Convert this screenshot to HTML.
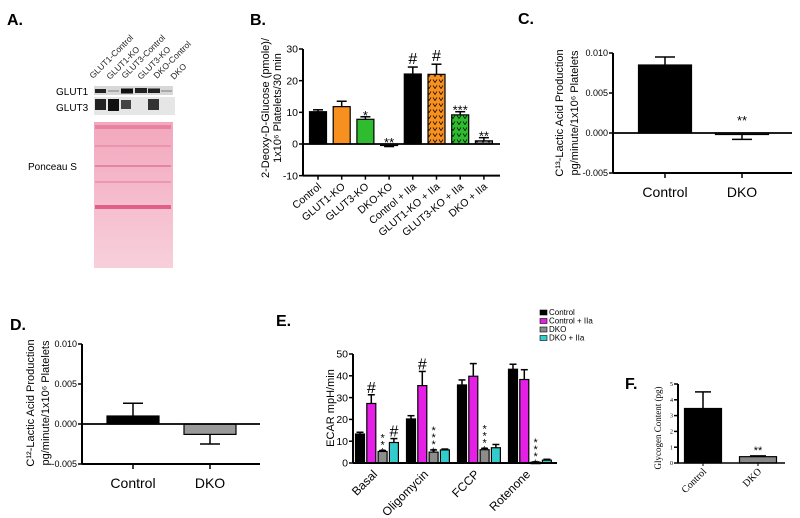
<!DOCTYPE html>
<html><head><meta charset="utf-8"><style>
body{margin:0;background:#fff;}
svg{display:block;font-family:"Liberation Sans",sans-serif;}
.serif{font-family:"Liberation Serif",serif;}
</style></head><body>
<svg id="fig" width="800" height="518" viewBox="0 0 800 518" xmlns="http://www.w3.org/2000/svg">
<defs>
<pattern id="vpat" width="6" height="6" patternUnits="userSpaceOnUse">
<path d="M1 1.5 L3 4.5 L5 1.5" fill="none" stroke="#000" stroke-width="0.7"/>
</pattern>
<linearGradient id="pon" x1="0" y1="0" x2="0" y2="1">
<stop offset="0" stop-color="#f2a7bd"/><stop offset="1" stop-color="#f8cfdb"/>
</linearGradient>
</defs>
<!-- Panel A -->
<g>
<text x="7" y="25" font-size="16" font-weight="bold">A.</text>
<g font-size="8.5" fill="#222">
<text transform="translate(93,79) rotate(-45)">GLUT1-Control</text>
<text transform="translate(110,80) rotate(-45)">GLUT1-KO</text>
<text transform="translate(125,79) rotate(-45)">GLUT3-Control</text>
<text transform="translate(141,80) rotate(-45)">GLUT3-KO</text>
<text transform="translate(157,79) rotate(-45)">DKO-Control</text>
<text transform="translate(174,80) rotate(-45)">DKO</text>
</g>
<text x="56" y="95" font-size="10">GLUT1</text>
<text x="56" y="111" font-size="10">GLUT3</text>
<g>
<rect x="94" y="86" width="79" height="9" fill="#d8d8d8"/>
<rect x="95" y="89" width="11" height="4" fill="#222"/>
<rect x="108" y="90" width="11" height="2" fill="#aaa"/>
<rect x="121" y="88.5" width="12" height="5" fill="#111"/>
<rect x="135" y="88" width="12" height="5" fill="#222"/>
<rect x="148" y="88.5" width="12" height="4.5" fill="#222"/>
<rect x="161" y="90" width="11" height="2" fill="#aaa"/>
</g>
<g>
<rect x="94" y="97" width="81" height="18" fill="#e6e6e6"/>
<rect x="95" y="99" width="11" height="11" fill="#222"/>
<rect x="108" y="99" width="11" height="12" fill="#111"/>
<rect x="121" y="100" width="10" height="9" fill="#444"/>
<rect x="148" y="99" width="11" height="11" fill="#333"/>
</g>
<text x="28" y="170" font-size="10">Ponceau S</text>
<g>
<rect x="94" y="122" width="79" height="146" fill="url(#pon)"/>
<g fill="#e8839f">
<rect x="95" y="125" width="76" height="4"/>
<rect x="95" y="165" width="76" height="2"/>
<rect x="95" y="181" width="76" height="2" opacity="0.6"/>
<rect x="95" y="205" width="76" height="4" fill="#e0608a"/>
<rect x="95" y="145" width="76" height="2" opacity="0.6"/>
</g>
</g>
</g>
<!-- Panel B -->
<g id="pb">
<text x="250" y="25" font-size="16" font-weight="bold">B.</text>
<g font-size="11" text-anchor="middle">
<text transform="translate(269,108) rotate(-90)">2-Deoxy-D-Glucose (pmole)/</text>
<text transform="translate(281,108) rotate(-90)">1x10⁶ Platelets/30 min</text>
</g>
</g>
<!-- Panel C -->
<g id="pc">
<text x="518" y="24" font-size="16" font-weight="bold">C.</text>
<g font-size="11" text-anchor="middle">
<text transform="translate(563,113) rotate(-90)">C¹³-Lactic Acid Production</text>
<text transform="translate(578,113) rotate(-90)">pg/minute/1x10⁶ Platelets</text>
</g>
</g>
<!-- Panel D -->
<g id="pd">
<text x="10" y="330" font-size="16" font-weight="bold">D.</text>
<g font-size="11" text-anchor="middle">
<text transform="translate(34,403) rotate(-90)">C¹²-Lactic Acid Production</text>
<text transform="translate(49,403) rotate(-90)">pg/minute/1x10⁶ Platelets</text>
</g>
</g>
<!-- Panel E -->
<g id="pe">
<text x="276" y="326" font-size="16" font-weight="bold">E.</text>
<text transform="translate(334,408) rotate(-90)" font-size="11" text-anchor="middle">ECAR mpH/min</text>
</g>
<!-- Panel F -->
<g id="pf">
<text x="625" y="389" font-size="16" font-weight="bold">F.</text>
<text class="serif" transform="translate(661,428) rotate(-90)" font-size="9" text-anchor="middle">Glycogen Content (pg)</text>
</g>
</svg>
<script>
// Panel B data
const B_cats=["Control","GLUT1-KO","GLUT3-KO","DKO-KO","Control + IIa","GLUT1-KO + IIa","GLUT3-KO + IIa","DKO + IIa"];
const B_vals=[10.2,11.8,7.8,-0.3,22.1,22.0,9.2,1.0];
const B_errs=[0.6,1.7,0.8,0.5,2.2,3.2,1.0,1.0];
const B_marks=["","","*","**","#","#","***","**"];
const B_ticks=[-10,0,10,20,30];
// Panel C data
const C_cats=["Control","DKO"];
const C_vals=[0.0085,-0.0001];
const C_errs=[0.001,0.0007];
const C_marks=["","**"];
const C_ticks=[-0.005,0,0.005,0.010];
// Panel D data
const D_cats=["Control","DKO"];
const D_vals=[0.001,-0.0013];
const D_errs=[0.0016,0.0012];
const D_ticks=[-0.005,0,0.005,0.010];
// Panel E data
const E_groups=["Basal","Oligomycin","FCCP","Rotenone"];
const E_series=["Control","Control + IIa","DKO","DKO + IIa"];
const E_control=[13.3,20.2,35.8,43.0];
const E_controlIIa=[27.3,35.5,39.8,38.3];
const E_dko=[5.3,5.0,6.1,0.4];
const E_dkoIIa=[9.4,6.0,7.0,1.3];
const E_controlErr=[0.8,1.5,2.3,2.3];
const E_controlIIaErr=[4.0,6.5,5.8,4.5];
const E_dkoErr=[0.4,1.0,0.6,0.1];
const E_dkoIIaErr=[1.8,0.4,1.5,0.4];
const E_controlIIaMarks=["#","#","",""];
const E_dkoMarks=["***","****","****","****"];
const E_dkoIIaMarks=["#","","",""];
const E_ticks=[0,10,20,30,40,50];
// Panel F data
const F_cats=["Control","DKO"];
const F_vals=[3.45,0.4];
const F_errs=[1.05,0.05];
const F_marks=["","**"];
const F_ticks=[0,1,2,3,4,5];

const NS="http://www.w3.org/2000/svg";
function mk(tag,parent,attrs){const e=document.createElementNS(NS,tag);for(const k in attrs)e.setAttribute(k,attrs[k]);parent.appendChild(e);return e;}
function scale(d0,d1,r0,r1){return v=>r0+(v-d0)*(r1-r0)/(d1-d0);}

function yAxis(g,x,y,ticks,fmt,fs,cls){
  const ax=mk('line',g,{x1:x,x2:x,y1:y(ticks[ticks.length-1]),y2:y(ticks[0]),stroke:'#000','stroke-width':2});
  
  
  ticks.forEach(t=>{
    const tk=mk('line',g,{x1:x-4,x2:x,y1:y(t),y2:y(t),stroke:'#000','stroke-width':1.5});
    
    
    const tl=mk('text',g,{x:x-5,y:y(t)+fs*0.35,'font-size':fs,'text-anchor':'end'});
    if(cls)tl.setAttribute('class',cls);
    tl.textContent=fmt(t);
    
    
  });
}
function errBar(g,cx,y,v,e,cap){
  const y0=y(v), y1=v>=0?y(v+e):y(v-e);
  mk('line',g,{x1:cx,x2:cx,y1:y0,y2:y1,stroke:'#000','stroke-width':1.5});
  const c=mk('line',g,{x1:cx-cap,x2:cx+cap,y1:y1,y2:y1,stroke:'#000','stroke-width':1.5});
  
  
  return Math.min(y1,y0);
}
function bar(g,cx,w,y,v,fill,name){
  const r=mk('rect',g,{x:cx-w/2,y:Math.min(y(v),y(0)),width:w,height:Math.max(1.5,Math.abs(y(v)-y(0))),fill:fill,stroke:'#000','stroke-width':1.2});
  
  
  return r;
}

// ---- Panel B
(function(){
  const g=document.getElementById('pb');
  const y=scale(0,30,144,49);
  const x0=303, xs=cx=>318+cx*23.7;
  const fills=['#000','#f7901e','#2fbd2f','#888','#000','#f7901e','#2fbd2f','#888'];
  yAxis(g,x0,y,B_ticks,t=>String(t),10.5);
  B_vals.forEach((v,i)=>{
    const cx=xs(i);
    bar(g,cx,17,y,v,fills[i],'bar-b-'+i);
    if(i>=5){const p=mk('rect',g,{x:cx-8.5,y:Math.min(y(v),y(0)),width:17,height:Math.abs(y(v)-y(0)),fill:'url(#vpat)'});
      
      }
    const top=errBar(g,cx,y,v,B_errs[i],5);
    if(B_marks[i]){const t=mk('text',g,{x:cx,y:(v<0?y(0):top)-3+(B_marks[i]=='#'?0:6),'font-size':B_marks[i]=='#'?16:13,'text-anchor':'middle'});t.textContent=B_marks[i];
      
      }
    mk('line',g,{x1:cx,x2:cx,y1:y(-10),y2:y(-10)+4,stroke:'#000','stroke-width':1.5});
    const tl=mk('text',g,{'font-size':10.5,'text-anchor':'end',transform:`translate(${cx+4},${y(-10)+12}) rotate(-40)`});
    tl.textContent=B_cats[i];
    
    
  });
  mk('line',g,{x1:x0,x2:500,y1:y(0),y2:y(0),stroke:'#000','stroke-width':1.8});
  const xa=mk('line',g,{x1:x0,x2:500,y1:y(-10),y2:y(-10),stroke:'#000','stroke-width':2});
  
  
})();

// ---- Panel C / D
function lactic(id,cats,vals,errs,marks,ticks,ax,y0,y1,xe,c0,c1,bw,fills){
  const g=document.getElementById(id);
  const y=scale(0,0.010,y0,y1);
  yAxis(g,ax,y,ticks,t=>t.toFixed(3),9);
  vals.forEach((v,i)=>{
    const cx=i?c1:c0;
    bar(g,cx,bw,y,v,fills[i],'bar-'+cats[i].toLowerCase());
    errBar(g,cx,y,v,errs[i],10);
    if(marks&&marks[i]){const t=mk('text',g,{x:cx,y:y(0)-8,'font-size':13,'text-anchor':'middle'});t.textContent=marks[i];
      
      }
    mk('line',g,{x1:cx,x2:cx,y1:y(-0.005),y2:y(-0.005)+5,stroke:'#000','stroke-width':1.5});
    const tl=mk('text',g,{x:cx,y:y(-0.005)+24,'font-size':14,'text-anchor':'middle'});
    tl.textContent=cats[i];
    
    
  });
  mk('line',g,{x1:ax,x2:xe,y1:y(0),y2:y(0),stroke:'#000','stroke-width':1.8});
  const xa=mk('line',g,{x1:ax,x2:xe,y1:y(-0.005),y2:y(-0.005),stroke:'#000','stroke-width':2});
  
  
}
lactic('pc',C_cats,C_vals,C_errs,C_marks,C_ticks,613,133,53,792,665,742,53,['#000','#888']);
lactic('pd',D_cats,D_vals,D_errs,null,D_ticks,82,424,344,260,133,210,52,['#000','#999']);

// ---- Panel E
(function(){
  const g=document.getElementById('pe');
  const y=scale(0,50,463,354);
  yAxis(g,353,y,E_ticks,t=>String(t),10.5);
  const series=[E_control,E_controlIIa,E_dko,E_dkoIIa];
  const errs=[E_controlErr,E_controlIIaErr,E_dkoErr,E_dkoIIaErr];
  const marks=[null,E_controlIIaMarks,E_dkoMarks,E_dkoIIaMarks];
  const fills=['#000','#e61fe6','#8c8c8c','#33cccc'];
  E_groups.forEach((grp,gi)=>{
    const gx=360+gi*51;
    series.forEach((s,si)=>{
      const cx=gx+si*11.3;
      bar(g,cx,9,y,s[gi],fills[si],'bar-e-'+grp.toLowerCase()+'-'+si);
      const top=errBar(g,cx,y,s[gi],errs[si][gi],3.5);
      const m=marks[si]&&marks[si][gi];
      if(m=='#'){const t=mk('text',g,{x:cx,y:top-2,'font-size':16,'text-anchor':'middle'});t.textContent='#';
        
        }
      else if(m){const t=mk('text',g,{x:cx,'font-size':11,'text-anchor':'middle'});
        
        
        for(let k=0;k<m.length;k++){const sp=mk('tspan',t,{x:cx,y:top-1-(m.length-1-k)*7+6});sp.textContent='*';}}
    });
    const tl=mk('text',g,{'font-size':12,'text-anchor':'end',transform:`translate(${gx+18},${y(0)+12}) rotate(-45)`});
    tl.textContent=grp;
    
    
  });
  const xa=mk('line',g,{x1:353,x2:557,y1:y(0),y2:y(0),stroke:'#000','stroke-width':2});
  
  
  E_series.forEach((s,i)=>{
    const ly=315+i*8.5;
    const sw=mk('rect',g,{x:540,y:ly-5,width:7,height:5,fill:fills[i],stroke:'#000','stroke-width':0.6});
    
    
    const t=mk('text',g,{x:549,y:ly,'font-size':8});t.textContent=s;
    
    
  });
})();

// ---- Panel F
(function(){
  const g=document.getElementById('pf');
  const y=scale(0,5,463,384);
  yAxis(g,678,y,F_ticks,t=>String(t),6,'serif');
  const fills=['#000','#888'];
  F_vals.forEach((v,i)=>{
    const cx=i?758:703;
    bar(g,cx,37,y,v,fills[i],'bar-f-'+F_cats[i].toLowerCase());
    const top=errBar(g,cx,y,v,F_errs[i],8);
    if(F_marks[i]){const t=mk('text',g,{x:cx,y:top-2,'font-size':11,'text-anchor':'middle'});t.textContent=F_marks[i];
      
      }
    mk('line',g,{x1:cx,x2:cx,y1:y(0),y2:y(0)+3,stroke:'#000','stroke-width':1});
    const tl=mk('text',g,{'font-size':10,'text-anchor':'end','class':'serif',transform:`translate(${cx+4},${y(0)+9}) rotate(-45)`});
    tl.textContent=F_cats[i];
    
    
  });
  const xa=mk('line',g,{x1:678,x2:785,y1:y(0),y2:y(0),stroke:'#000','stroke-width':1.5});
  
  
})();
</script>
</body></html>
